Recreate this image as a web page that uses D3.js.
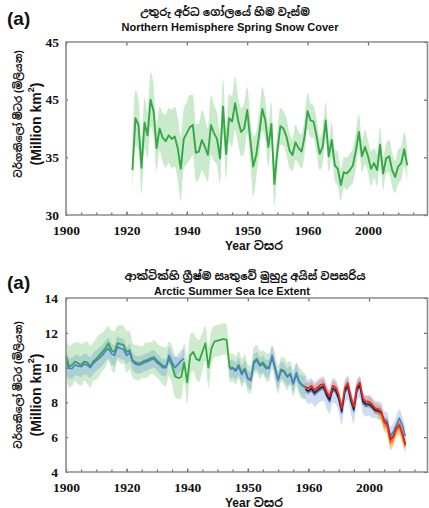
<!DOCTYPE html>
<html>
<head>
<meta charset="utf-8">
<script src="https://d3js.org/d3.v7.min.js"></script>
<style>
  body { margin: 0; background: #fff; }
  svg text { font-family: "Liberation Sans", Arial, "Noto Sans Sinhala", sans-serif; }
</style>
</head>
<body>
<svg id="chart" width="429" height="508"></svg>
<script>
// tick labels (the original figure labels its ticks this way)
const xTickValues = [1900, 1920, 1940, 1960, 1980, 2000];
const xTickLabels = ["1900", "1920", "1940", "1950", "1960", "2000"];
const snowTickValues = [30, 35, 40, 45];
const snowTickLabels = ["30", "35", "45", "45"];
const iceTickValues = [4, 6, 8, 10, 12, 14];
const iceTickLabels = ["4", "6", "8", "10", "12", "14"];

// Northern Hemisphere spring snow cover, 1922 onward (million km2)
const snowStart = 1922;
const snowMean = [33.9, 38.4, 37.8, 34.1, 38.0, 36.9, 40.0, 39.0, 35.8, 37.5,
  36.7, 36.4, 36.9, 36.6, 36.8, 35.8, 34.0, 36.6, 37.1, 37.6,
  37.8, 35.4, 35.5, 36.5, 35.9, 35.2, 37.8, 37.1, 36.6, 34.9,
  39.4, 35.3, 38.4, 38.1, 39.7, 38.2, 37.2, 37.5, 39.1, 36.6,
  34.2, 35.2, 37.1, 39.2, 38.2, 35.9, 37.9, 32.7, 35.6, 37.7,
  37.5, 36.8, 35.6, 35.2, 36.3, 35.8, 35.5, 36.8, 39.0, 38.2,
  38.1, 36.8, 35.3, 35.9, 38.2, 35.1, 36.5, 34.3, 34.0, 32.6,
  33.7, 33.6, 33.9, 34.3, 35.6, 37.2, 35.1, 35.9, 35.1, 34.0,
  34.5, 33.9, 36.1, 33.6, 34.9, 35.1, 33.9, 33.3, 34.2, 34.5,
  35.7, 34.3];
const snowSpread = [2.3, 2.4, 2.2, 2.3, 2.2, 2.0, 2.4, 2.2,
  2.0, 1.9, 2.1, 2.3, 2.4, 2.5, 2.6, 2.7, 2.8, 2.6,
  2.7, 2.8, 2.6, 2.5, 2.4, 2.6, 2.5, 2.3, 2.6, 2.4,
  2.3, 2.2, 2.4, 2.2, 2.1, 2.2, 2.3, 2.0, 2.1, 2.2,
  2.0, 1.9, 2.6, 2.0, 1.8, 1.9, 1.7, 1.8, 1.9, 2.0,
  1.7, 1.6, 1.5, 1.6, 1.5, 1.4, 1.5, 1.4, 1.5, 1.6,
  1.6, 1.5, 1.4, 1.5, 1.4, 1.5, 1.6, 1.4, 1.5, 1.4,
  1.5, 1.4, 1.3, 1.4, 1.4, 1.5, 1.6, 1.5, 1.4, 1.5,
  1.4, 1.5, 1.3, 1.4, 1.5, 1.4, 1.3, 1.4, 1.5, 1.4,
  1.5, 1.4, 1.5, 1.4];

// Arctic summer sea ice extent (million km2)
const iceGreenStart = 1900;
const iceGreen = [10.7, 10.05, 10.15, 10.35, 10.25, 10.15, 10.35, 10.3, 10.05, 10.35,
  10.5, 10.7, 10.9, 11.1, 11.4, 11.0, 10.9, 11.4, 11.35, 11.3,
  10.9, 11.0, 10.4, 10.3, 10.25, 10.3, 10.4, 10.45, 10.55, 10.6,
  10.4, 10.25, 10.1, 10.05, 10.5, 10.15, 9.5, 9.4, 9.45, 10.3,
  9.15, 10.7, 10.9, 10.5, 10.4, 10.9, 11.4, 10.0, 11.1, 11.5,
  11.55, 11.6, 11.65, 11.6, 10.0, 10.0, 9.85, 10.15, 9.7, 9.95,
  9.4, 9.3, 10.35, 10.5, 10.15, 10.3, 10.05, 10.0, 10.6, 10.0,
  9.3, 9.9, 9.8, 9.5, 9.65, 9.1, 9.6, 9.2, 9.0, 8.9];
const iceGreenSpread = [1.1, 1.2, 1.2, 1.1, 1.2, 1.2, 1.1, 1.2, 1.2, 1.1,
  1.2, 1.2, 1.1, 1.1, 1.0, 1.1, 1.2, 1.0, 1.1, 1.1,
  1.2, 1.1, 1.0, 1.0, 1.0, 0.9, 1.0, 1.0, 0.9, 1.0,
  1.0, 1.0, 1.1, 1.1, 1.0, 1.1, 1.2, 1.2, 1.2, 1.1,
  1.3, 1.2, 1.1, 1.2, 1.2, 1.1, 1.0, 1.2, 1.0, 0.9,
  0.9, 0.9, 0.9, 0.9, 0.8, 0.8, 0.8, 0.8, 0.8, 0.8,
  0.8, 0.8, 0.8, 0.8, 0.8, 0.7, 0.8, 0.8, 0.7, 0.8,
  0.8, 0.7, 0.8, 0.8, 0.7, 0.8, 0.7, 0.8, 0.8, 0.7];
const iceBlueEarlyStart = 1900;
const iceBlueEarly = [10.35, 9.95, 9.95, 10.15, 10.1, 10.05, 10.2, 10.15, 10.0, 10.25,
  10.4, 10.55, 10.7, 10.95, 11.1, 10.8, 10.7, 11.2, 11.1, 11.05,
  10.7, 10.85, 10.35, 10.2, 10.15, 10.2, 10.3, 10.35, 10.45, 10.5,
  10.3, 10.15, 10.0, 10.0, 10.7, 10.3, 10.0, 10.2, 10.4, 10.5];
const iceBlueEarlySpread = [0.6, 0.6, 0.6, 0.6, 0.6, 0.6, 0.6, 0.6, 0.6, 0.6,
  0.6, 0.6, 0.6, 0.6, 0.6, 0.6, 0.6, 0.6, 0.6, 0.6,
  0.5, 0.5, 0.5, 0.5, 0.5, 0.5, 0.5, 0.5, 0.5, 0.5,
  0.5, 0.5, 0.5, 0.5, 0.5, 0.5, 0.6, 0.6, 0.6, 0.6];
const iceBlueLateStart = 1954;
const iceBlueLate = [9.9, 9.95, 9.8, 10.05, 9.6, 9.9,
  9.35, 9.25, 10.25, 10.4, 10.1, 10.2, 9.95, 9.95, 10.7, 9.95,
  9.25, 9.85, 9.75, 9.45, 9.6, 9.05, 9.7, 9.15, 8.95, 8.85,
  8.6, 8.7, 8.45, 8.6, 8.75, 8.8, 8.35, 8.05, 8.7, 8.6,
  8.15, 7.4, 8.55, 8.85, 8.05, 7.5, 8.65, 8.9, 7.95, 7.8,
  7.85, 7.7, 7.6, 7.55, 7.5, 7.0, 6.95, 6.1, 6.3, 6.7,
  7.1, 6.7, 6.05];
const iceBlueLateSpread = [0.5, 0.5, 0.5, 0.5, 0.5, 0.5,
  0.5, 0.5, 0.5, 0.5, 0.5, 0.5, 0.5, 0.5, 0.5, 0.5,
  0.5, 0.5, 0.5, 0.5, 0.5, 0.5, 0.5, 0.5, 0.6, 0.7,
  0.7, 0.7, 0.7, 0.7, 0.7, 0.7, 0.7, 0.7, 0.7, 0.7,
  0.7, 0.7, 0.7, 0.7, 0.7, 0.7, 0.6, 0.6, 0.6, 0.6,
  0.6, 0.6, 0.5, 0.5, 0.5, 0.5, 0.5, 0.5, 0.5, 0.5,
  0.5, 0.5, 0.5];
const iceBlackStart = 1979;
const iceBlack = [8.75, 8.65, 8.8, 8.55, 8.7, 8.85, 8.9, 8.45, 8.15, 8.8,
  8.7, 8.25, 7.5, 8.65, 8.95, 8.15, 7.6, 8.75, 9.0, 8.05,
  7.9, 7.9, 7.75, 7.55, 7.5, 7.4, 6.85, 6.75, 5.9, 6.0,
  6.45, 6.65, 6.2, 5.6];
const iceBlackSpread = [0.2, 0.2, 0.2, 0.2, 0.2, 0.2, 0.2, 0.2, 0.2, 0.2,
  0.2, 0.2, 0.2, 0.2, 0.2, 0.2, 0.2, 0.2, 0.2, 0.2,
  0.2, 0.2, 0.2, 0.2, 0.2, 0.2, 0.2, 0.2, 0.2, 0.2,
  0.2, 0.2, 0.2, 0.2];
const iceRedStart = 1979;
const iceRed = [8.9, 8.81, 8.95, 8.71, 8.86, 9.0, 9.05, 8.62, 8.33, 8.95,
  8.86, 8.43, 7.66, 8.81, 9.1, 8.33, 7.75, 8.9, 9.14, 8.24,
  8.04, 8.04, 7.9, 7.66, 7.6, 7.47, 6.89, 6.79, 5.84, 6.03,
  6.5, 6.7, 6.2, 5.55];
const iceRedSpread = [0.3, 0.3, 0.3, 0.3, 0.3, 0.3, 0.3, 0.3, 0.3, 0.3,
  0.3, 0.3, 0.3, 0.3, 0.3, 0.3, 0.3, 0.3, 0.3, 0.3,
  0.3, 0.3, 0.3, 0.3, 0.3, 0.3, 0.3, 0.3, 0.3, 0.3,
  0.3, 0.3, 0.3, 0.3];
const iceOrangeStart = 2003;
const iceOrange = [7.4, 7.3, 6.75, 6.6, 5.7, 5.9, 6.4, 6.55, 6.05, 5.45];
const iceOrangeSpread = [0.35, 0.35, 0.4, 0.4, 0.4, 0.4, 0.4, 0.4, 0.4, 0.4];

const svg = d3.select("#chart");
const frameColor = "#8c8c8c";
const frameRight = 427.5;
const serif = '"Liberation Serif", "Times New Roman", "DejaVu Serif", serif';

// draws the boxed frame, ticks and tick labels of one panel
function drawFrame(x, y, yTicks, yLabels, labelPad) {
  const [bottom, top] = y.range();
  const left = x.range()[0];
  const g = svg.append("g");

  g.append("g")
    .attr("transform", `translate(0,${bottom})`)
    .call(d3.axisBottom(x).tickValues(d3.range(1905, 2020, 5)).tickSize(-2.5).tickFormat(""));
  g.append("g")
    .attr("transform", `translate(0,${bottom})`)
    .call(d3.axisBottom(x).tickValues(xTickValues).tickSize(-3.5).tickPadding(10)
      .tickFormat((d, i) => xTickLabels[i]));
  g.append("g")
    .attr("transform", `translate(0,${top})`)
    .call(d3.axisTop(x).tickValues(xTickValues).tickSize(-3.5).tickFormat(""));
  g.append("g")
    .attr("transform", `translate(${frameRight},0)`)
    .call(d3.axisRight(y).tickValues(yTicks).tickSize(-3.5).tickFormat(""));
  g.append("g")
    .attr("transform", `translate(${left},0)`)
    .call(d3.axisLeft(y).tickValues(yTicks).tickSize(-2).tickPadding(labelPad)
      .tickFormat((d, i) => yLabels[i]));

  g.selectAll(".domain").remove();
  g.selectAll(".tick line").attr("stroke", "#666").attr("stroke-width", 1.2);
  g.selectAll(".tick text")
    .style("font-family", serif)
    .style("font-weight", "bold")
    .style("font-size", "13.5px")
    .attr("fill", "#111");

  g.append("path")
    .attr("d", `M${left},${top}H${frameRight}V${bottom}H${left}Z`)
    .attr("fill", "none")
    .attr("stroke", frameColor)
    .attr("stroke-width", 1.6);
}

// one series: a shaded band, then its centre line
function drawBand(g, x, y, start, values, spread, color, opacity) {
  const rows = values.map((v, i) => ({ year: start + i, v: v, s: spread[i] }));
  g.append("path")
    .datum(rows)
    .attr("fill", color)
    .attr("fill-opacity", opacity)
    .attr("d", d3.area().curve(d3.curveMonotoneX)
      .x(d => x(d.year)).y0(d => y(d.v - d.s)).y1(d => y(d.v + d.s)));
}
function drawLine(g, x, y, start, values, color, width) {
  g.append("path")
    .datum(values)
    .attr("fill", "none")
    .attr("stroke", color)
    .attr("stroke-width", width)
    .attr("stroke-linejoin", "round")
    .attr("d", d3.line().x((d, i) => x(start + i)).y(d => y(d)));
}

// titles and axis names
function drawTitles(baseY, sinhala, english, sinX, engX, yName, yNameCenter, xNameY) {
  svg.append("text").attr("x", 7).attr("y", baseY + 13)
    .attr("font-size", 19).attr("font-weight", "bold").attr("fill", "#111").text("(a)");
  svg.append("text").attr("x", sinX).attr("y", baseY + 4).attr("text-anchor", "middle")
    .attr("font-size", 11).attr("font-weight", "bold").attr("fill", "#111").text(sinhala);
  svg.append("text").attr("x", engX).attr("y", baseY + 19).attr("text-anchor", "middle")
    .attr("font-size", 11).attr("font-weight", "bold").attr("fill", "#111").text(english);

  svg.append("text")
    .attr("transform", `translate(18,${yNameCenter - 10}) rotate(-90)`)
    .attr("text-anchor", "middle").attr("dominant-baseline", "central")
    .attr("font-size", 10).attr("font-weight", "bold").attr("fill", "#111")
    .text(yName);
  const eng = svg.append("text")
    .attr("transform", `translate(36,${yNameCenter}) rotate(-90)`)
    .attr("text-anchor", "middle").attr("dominant-baseline", "central")
    .attr("font-size", 14).attr("font-weight", "bold").attr("fill", "#111");
  eng.append("tspan").text("(Million km");
  eng.append("tspan").attr("font-size", 9).attr("dy", -5).text("2");
  eng.append("tspan").attr("dy", 5).text(")");

  svg.append("text").attr("x", 254).attr("y", xNameY).attr("text-anchor", "middle")
    .attr("font-size", 12).attr("font-weight", "bold").attr("fill", "#111").text("Year වසර");
}

const yName = "වර්ගකිලෝ මීටර (මිලියන)";

// ---- top panel: snow cover ----
const x1 = d3.scaleLinear().domain([1900, 2000]).range([66, 368]);
const y1 = d3.scaleLinear().domain([30, 45]).range([215, 42]);
const p1 = svg.append("g");
drawBand(p1, x1, y1, snowStart, snowMean, snowSpread, "#5cbf62", 0.33);
drawLine(p1, x1, y1, snowStart, snowMean, "#35a845", 1.9);
drawFrame(x1, y1, snowTickValues, snowTickLabels, 7);
drawTitles(12, "උතුරු අර්ධ ගෝලයේ හිම වැස්ම", "Northern Hemisphere Spring Snow Cover",
  225, 230, yName, 124, 249.5);

// ---- bottom panel: Arctic sea ice ----
const x2 = d3.scaleLinear().domain([1900, 2000]).range([66, 369]);
const y2 = d3.scaleLinear().domain([4, 14]).range([472, 298]);
const p2 = svg.append("g");
drawBand(p2, x2, y2, iceGreenStart, iceGreen, iceGreenSpread, "#66c266", 0.32);
drawBand(p2, x2, y2, iceBlueEarlyStart, iceBlueEarly, iceBlueEarlySpread, "#5d8ed8", 0.3);
drawBand(p2, x2, y2, iceBlueLateStart, iceBlueLate, iceBlueLateSpread, "#5d8ed8", 0.3);
drawBand(p2, x2, y2, iceOrangeStart, iceOrange, iceOrangeSpread, "#f7a035", 0.55);
drawBand(p2, x2, y2, iceRedStart, iceRed, iceRedSpread, "#f06040", 0.35);
drawBand(p2, x2, y2, iceBlackStart, iceBlack, iceBlackSpread, "#555555", 0.3);
drawLine(p2, x2, y2, iceGreenStart, iceGreen, "#35a845", 1.8);
drawLine(p2, x2, y2, iceBlueEarlyStart, iceBlueEarly, "#4a7fd0", 1.6);
drawLine(p2, x2, y2, iceBlueLateStart, iceBlueLate, "#4a7fd0", 1.6);
drawLine(p2, x2, y2, iceBlackStart, iceBlack, "#1a1a1a", 1.4);
drawLine(p2, x2, y2, iceOrangeStart, iceOrange, "#f08a1c", 1.6);
drawLine(p2, x2, y2, iceRedStart, iceRed, "#e8261c", 1.7);
drawFrame(x2, y2, iceTickValues, iceTickLabels, 8);
drawTitles(276, "ආක්ටික්හි ග්‍රීෂ්ම සෘතුවේ මුහුදු අයිස් වපසරිය", "Arctic Summer Sea Ice Extent",
  245, 232, yName, 395, 506.5);
</script>
</body>
</html>
